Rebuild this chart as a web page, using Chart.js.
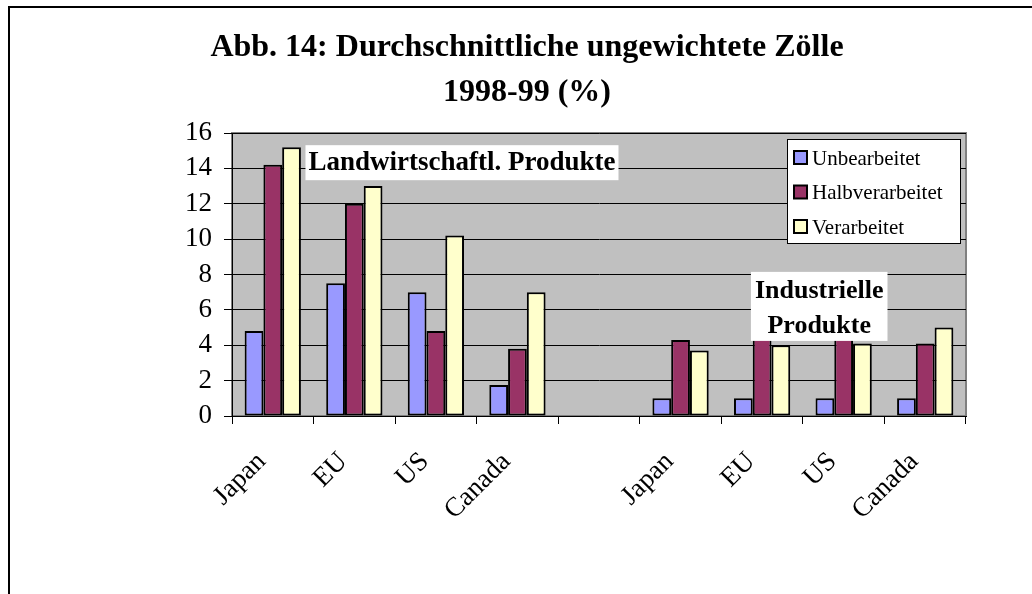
<!DOCTYPE html>
<html>
<head>
<meta charset="utf-8">
<script src="https://cdn.jsdelivr.net/npm/chart.js@4"></script>
<style>
  html, body { margin: 0; padding: 0; background: #fff; }
  #wrap { position: relative; width: 1032px; height: 594px; }
  #frame { position: absolute; left: 8px; top: 6px; right: -4px; bottom: -4px; border-left: 2px solid #000; border-top: 2px solid #000; pointer-events: none; }
</style>
</head>
<body>
<div id="wrap">
  <canvas id="chart" width="1032" height="594"></canvas>
  <div id="frame"></div>
</div>
<script>
// Data
const categories = ['Japan', 'EU', 'US', 'Canada', '', 'Japan', 'EU', 'US', 'Canada'];
const unbearbeitet = [4.8, 7.5, 7.0, 1.75, null, 1.0, 1.0, 1.0, 1.0];
const halbverarbeitet = [14.2, 12.0, 4.8, 3.8, null, 4.3, 4.7, 4.7, 4.1];
const verarbeitet = [15.2, 13.0, 10.2, 7.0, null, 3.7, 4.0, 4.1, 5.0];
const yTicks = [0, 2, 4, 6, 8, 10, 12, 14, 16];
const titleLines = ['Abb. 14: Durchschnittliche ungewichtete Zölle', '1998-99 (%)'];

const serif = "'Liberation Serif', 'Times New Roman', serif";

// plot background, title, legend and the two group labels
const decorations = {
    id: 'decorations',
    beforeDraw(chart) {
        const ca = chart.chartArea;
        const c = chart.ctx;
        c.save();
        c.fillStyle = '#c0c0c0';
        c.fillRect(ca.left, ca.top, ca.right - ca.left, ca.bottom - ca.top);
        c.strokeStyle = '#808080';
        c.lineWidth = 2;
        c.strokeRect(ca.left, ca.top, ca.right - ca.left, ca.bottom - ca.top);
        c.restore();
    },
    afterDraw(chart) {
        const c = chart.ctx;
        const ca = chart.chartArea;
        const x = chart.scales.x;
        const y = chart.scales.y;
        c.save();

        // title
        c.fillStyle = '#000';
        c.font = 'bold 32px ' + serif;
        c.textAlign = 'center';
        c.textBaseline = 'middle';
        c.fillText(titleLines[0], 527, 48);
        c.fillText(titleLines[1], 527, 93);

        // group labels
        c.font = 'bold 27px ' + serif;
        const lx = x.getPixelForValue(2.32);
        const ly = y.getPixelForValue(14.35);
        const lw = c.measureText('Landwirtschaftl. Produkte').width + 6;
        c.fillStyle = '#fff';
        c.fillRect(lx - lw / 2, ly - 17, lw, 35);
        c.fillStyle = '#000';
        c.fillText('Landwirtschaftl. Produkte', lx, ly + 1);

        c.font = 'bold 26px ' + serif;
        const ix = x.getPixelForValue(6.7);
        const iy1 = y.getPixelForValue(7.13);
        const iy2 = y.getPixelForValue(5.15);
        const iw = c.measureText('Industrielle').width + 8;
        c.fillStyle = '#fff';
        c.fillRect(ix - iw / 2, iy1 - 18, iw, iy2 - iy1 + 34);
        c.fillStyle = '#000';
        c.fillText('Industrielle', ix, iy1 + 1);
        c.fillText('Produkte', ix, iy2 + 1);

        // legend
        const bx = ca.right - 179, by = ca.top + 6, bw = 173, bh = 104;
        c.fillStyle = '#fff';
        c.fillRect(bx, by, bw, bh);
        c.strokeStyle = '#000';
        c.lineWidth = 1;
        c.strokeRect(bx + 0.5, by + 0.5, bw, bh);
        c.font = '21px ' + serif;
        c.textAlign = 'left';
        chart.data.datasets.forEach((ds, i) => {
            const ry = by + 19 + i * 34.5;
            c.fillStyle = ds.backgroundColor;
            c.fillRect(bx + 7, ry - 7, 13, 13);
            c.lineWidth = 2;
            c.strokeRect(bx + 7, ry - 7, 13, 13);
            c.fillStyle = '#000';
            c.fillText(ds.label, bx + 25, ry + 1);
        });
        c.restore();
    }
};

const ctx = document.getElementById('chart').getContext('2d');
new Chart(ctx, {
    type: 'bar',
    data: {
        labels: categories,
        datasets: [
            { label: 'Unbearbeitet', data: unbearbeitet, backgroundColor: '#9999ff' },
            { label: 'Halbverarbeitet', data: halbverarbeitet, backgroundColor: '#993366' },
            { label: 'Verarbeitet', data: verarbeitet, backgroundColor: '#ffffcc' }
        ].map(d => Object.assign(d, {
            borderColor: '#000',
            borderWidth: 2,
            borderSkipped: false,
            categoryPercentage: 0.69,
            barPercentage: 1.0
        }))
    },
    options: {
        responsive: false,
        animation: false,
        events: [],
        layout: { padding: { top: 133, left: 0, right: 66, bottom: 0 } },
        plugins: { legend: { display: false }, title: { display: false }, tooltip: { enabled: false } },
        scales: {
            x: {
                afterFit: s => { s.height = 178; },
                grid: { drawOnChartArea: false, drawTicks: true, tickLength: 8, color: '#000', offset: true },
                border: { color: '#000', width: 1 },
                ticks: {
                    color: '#000',
                    font: { family: serif, size: 27 },
                    maxRotation: 45,
                    minRotation: 45,
                    padding: 22,
                    labelOffset: -11,
                    autoSkip: false
                }
            },
            y: {
                min: 0,
                max: 16,
                afterFit: s => { s.width = 232; },
                afterBuildTicks: s => { s.ticks = yTicks.map(v => ({ value: v })); },
                grid: { color: '#000', lineWidth: 1, tickLength: 8 },
                border: { color: '#000', width: 1 },
                ticks: {
                    color: '#000',
                    font: { family: serif, size: 27 },
                    padding: 12,
                    autoSkip: false
                }
            }
        }
    },
    plugins: [decorations]
});
</script>
</body>
</html>
